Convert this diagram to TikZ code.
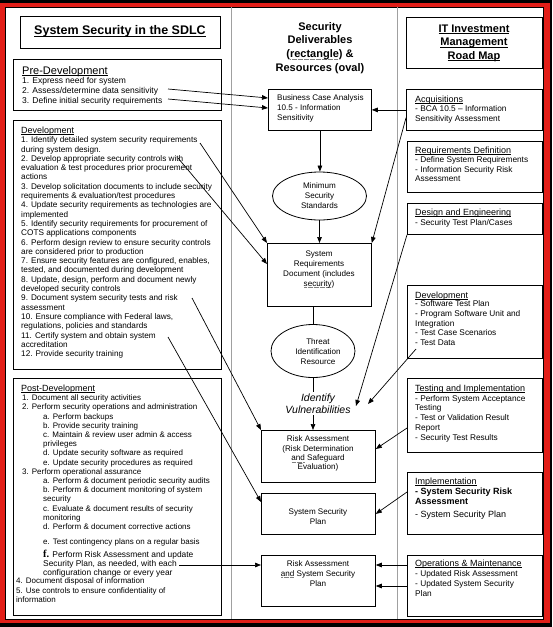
\documentclass[tikz,border=0pt]{standalone}
\usepackage{fontspec}
\setmainfont{Liberation Sans}
\newfontfamily\serifbf{Liberation Serif}
\usetikzlibrary{arrows.meta,shapes.geometric}
\definecolor{framered}{RGB}{226,30,24}
\definecolor{colsep}{RGB}{160,160,160}
\newcommand{\myfs}[2]{\fontsize{#1}{#2}\selectfont}
\newsavebox{\dulbox}
\newcommand{\uln}[1]{\sbox{\dulbox}{#1}\leavevmode\rlap{\rule[-1.3pt]{\wd\dulbox}{0.5pt}}\usebox{\dulbox}}
\newcommand{\ulnb}[1]{\sbox{\dulbox}{#1}\leavevmode\rlap{\rule[-1.9pt]{\wd\dulbox}{0.8pt}}\usebox{\dulbox}}
\newcommand{\dotul}[1]{\sbox{\dulbox}{#1}\leavevmode\rlap{\raisebox{-1.6pt}{\color{gray}\hbox to \wd\dulbox{\leaders\hbox to 1.2pt{\hss\vrule width 0.6pt height 0.4pt\hss}\hfill}}}\usebox{\dulbox}}
\tikzset{
  box/.style={draw, line width=0.8pt, inner sep=0, anchor=north west},
  oval/.style={draw, ellipse, line width=0.8pt, inner sep=0},
  arr/.style={line width=0.7pt, -{Triangle[length=6pt,width=4.6pt]}},
  ln/.style={line width=0.7pt},
  body/.style={inner sep=0, anchor=north west, align=left},
  cbody/.style={inner sep=0, anchor=north, align=center},
  hd/.style={inner sep=0, anchor=base west, font=\myfs{9}{10}},
}
\begin{document}
\begin{tikzpicture}[x=1pt,y=-1pt]
\useasboundingbox (0,0) rectangle (552,627);
% frame
\fill[black] (0,0) rectangle (552,627);
\fill[framered] (0,3) rectangle (550,623);
\filldraw[fill=white, draw=black, line width=0.6pt] (5,7) rectangle (543,619);
\draw[colsep, line width=0.8pt] (231,7) -- (231,619) (397,7) -- (397,619);

% ---------- left column ----------
\node[box, minimum width=200, minimum height=32] (title) at (20,16) {};
\node[inner sep=0, anchor=base, font=\myfs{12.5}{14}\bfseries] (titlet) at (120,34.5) {\ulnb{System Security in the SDLC}};

\node[box, minimum width=208, minimum height=51] (pre) at (13,59) {};
\node[hd, font=\myfs{11}{12}] (pret) at (22,74) {\uln{Pre-Development}};
\node[body, font=\myfs{8.5}{10}] (prel) at (22,76) {\strut 1. Express need for system\\2. Assess/determine data sensitivity\\3. Define initial security requirements};

\node[box, minimum width=208, minimum height=249] (dev) at (13,120) {};
\node[hd] (devt) at (21,133) {\uln{Development}};
\node[body, font=\myfs{8.2}{9.3}] (devl) at (21,136) {\strut 1. Identify detailed system security requirements\\
during system design.\\
2. Develop appropriate security controls with\\
evaluation \& test procedures prior procurement\\
actions\\
3. Develop solicitation documents to include security\\
requirements \& evaluation/test procedures\\
4. Update security requirements as technologies are\\
implemented\\
5. Identify security requirements for procurement of\\
COTS applications components\\
6. Perform design review to ensure security controls\\
are considered prior to production\\
7. Ensure security features are configured, enables,\\
tested, and documented during development\\
8. Update, design, perform and document newly\\
developed security controls\\
9. Document system security tests and risk\\
assessment\\
10. Ensure compliance with Federal laws,\\
regulations, policies and standards\\
11. Certify system and obtain system\\
accreditation\\
12. Provide security training};

\node[box, minimum width=208, minimum height=237] (post) at (13,378) {};
\node[hd] (postt) at (21,391) {\uln{Post-Development}};
\node[body, font=\myfs{8}{9.21}] (post1) at (22,394) {\strut 1. Document all security activities\\
2. Perform security operations and administration\\
\hspace*{21pt}a. Perform backups\\
\hspace*{21pt}b. Provide security training\\
\hspace*{21pt}c. Maintain \& review user admin \& access\\
\hspace*{21pt}privileges\\
\hspace*{21pt}d. Update security software as required\\
\hspace*{21pt}e. Update security procedures as required\\
3. Perform operational assurance\\
\hspace*{21pt}a. Perform \& document periodic security audits\\
\hspace*{21pt}b. Perform \& document monitoring of system\\
\hspace*{21pt}security\\
\hspace*{21pt}c. Evaluate \& document results of security\\
\hspace*{21pt}monitoring\\
\hspace*{21pt}d. Perform \& document corrective actions};
\node[inner sep=0, anchor=base west, font=\myfs{8}{9}] (poste) at (43,544) {e. Test contingency plans on a regular basis};
\node[body, font=\myfs{8.4}{9}] (post2) at (43,550) {\strut{\serifbf\bfseries\myfs{10.5}{9}f.} Perform Risk Assessment and update\\
Security Plan, as needed, with each\\
configuration change or every year};
\node[body, font=\myfs{8}{9.5}] (post3) at (16,577) {\strut 4. Document disposal of information\\
5. Use controls to ensure confidentiality of\\
information};

% ---------- middle column ----------
\node[cbody, font=\myfs{11}{13.6}\bfseries] (midt) at (320,20.5) {\strut Security\\Deliverables\\(\dotul{rectangle}) \&\\Resources (oval)};

\node[box, minimum width=103, minimum height=41] (bca) at (268,89) {};
\node[body, font=\myfs{8.1}{10}] (bcat) at (277,93) {\strut Business Case Analysis\\10.5 - Information\\Sensitivity};

\node[oval, minimum width=94, minimum height=48, align=center, font=\myfs{8.1}{10}] (mss) at (319.5,196) {Minimum\\Security\\Standards};

\node[box, minimum width=104, minimum height=63] (srd) at (267,243) {};
\node[cbody, font=\myfs{8.1}{10}] (srdt) at (319,249) {\strut System\\Requirements\\Document (includes\\\dotul{security})};

\node[oval, minimum width=84, minimum height=53] (tir) at (313,351) {};
\node[cbody, font=\myfs{8.1}{10}] (tirt) at (318,337) {\strut Threat\\Identification\\Resource};

\node[box, minimum width=114, minimum height=52] (ra) at (261,430) {};
\node[cbody, font=\myfs{8.1}{9.4}] (rat) at (318,435) {\strut Risk Assessment\\(Risk Determination\\\dotul{and} Safeguard\\Evaluation)};

\node[box, minimum width=114, minimum height=41] (ssp) at (261,493) {};
\node[cbody, font=\myfs{8.1}{10}] (sspt) at (318,507) {\strut System Security\\Plan};

\node[box, minimum width=114, minimum height=51] (rassp) at (261,555) {};
\node[cbody, font=\myfs{8.1}{10}] (rasspt) at (318,559) {\strut Risk Assessment\\\dotul{and} System Security\\Plan};

% ---------- right column ----------
\node[box, minimum width=136, minimum height=51] (itt) at (406,17) {};
\node[cbody, font=\myfs{11}{13.5}\bfseries] (ittt) at (474,22.5) {\strut\ulnb{IT Investment}\\\ulnb{Management}\\\ulnb{Road Map}};

\node[box, minimum width=136, minimum height=41] (acq) at (406,89) {};
\node[hd] (acqt) at (415,102) {\uln{Acquisitions}};
\node[body, font=\myfs{8.3}{10}] (acql) at (415,104) {\strut - BCA 10.5 \textendash{} Information\\Sensitivity Assessment};

\node[box, minimum width=135, minimum height=51] (reqd) at (407,141) {};
\node[hd] (reqdt) at (415,153) {\uln{Requirements Definition}};
\node[body, font=\myfs{8.3}{9.5}] (reqdl) at (415,156) {\strut - Define System Requirements\\- Information Security Risk\\Assessment};

\node[box, minimum width=135, minimum height=31] (design) at (407,203) {};
\node[hd] (designt) at (415,215) {\uln{Design and Engineering}};
\node[body, font=\myfs{8.3}{9.5}] (designl) at (415,219) {\strut - Security Test Plan/Cases};

\node[box, minimum width=135, minimum height=73] (devr) at (407,285) {};
\node[hd] (devrt) at (415,298) {\uln{Development}};
\node[body, font=\myfs{8.3}{9.6}] (devrl) at (415,300) {\strut - Software Test Plan\\- Program Software Unit and\\Integration\\- Test Case Scenarios\\- Test Data};

\node[box, minimum width=135, minimum height=74] (testimp) at (407,378) {};
\node[hd] (testimpt) at (415,391) {\uln{Testing and Implementation}};
\node[body, font=\myfs{8.3}{9.8}] (testimpl) at (415,394) {\strut - Perform System Acceptance\\Testing\\- Test or Validation Result\\Report\\- Security Test Results};

\node[box, minimum width=135, minimum height=62] (impl) at (407,472) {};
\node[hd] (implt) at (415,484) {\uln{Implementation}};
\node[body, font=\myfs{9}{10}\bfseries] (impll) at (415,487.5) {\strut - System Security Risk\\Assessment};
\node[hd] (impll2) at (415,517) {- System Security Plan};

\node[box, minimum width=135, minimum height=61] (om) at (407,555) {};
\node[hd] (omt) at (415,566) {\uln{Operations \& Maintenance}};
\node[body, font=\myfs{8.3}{10}] (oml) at (415,569) {\strut - Updated Risk Assessment\\- Updated System Security\\Plan};

% ---------- connectors ----------
\coordinate (pd2) at (168,89);
\coordinate (pd3) at (168,99);
\draw[arr] (pd2) -- ([shift={(0,9)}]bca.north west);
\draw[arr] (pd3) -- ([shift={(0,19)}]bca.north west);
\draw[arr] (acq.west) -- (acq.west -| bca.east);
\draw[arr] (bca.south) -- (bca.south |- mss.north);
\draw[arr] (mss.south) -- (mss.south |- srd.north);

\coordinate (d1) at (200,143);
\coordinate (d2) at (178,158);
\draw[arr] (d1) -- (srd.north west);
\draw[arr] (d2) -- ([shift={(0,21)}]srd.north west);
\draw[arr] ([shift={(0,-13)}]acq.south west) -- (srd.north east);

\draw[ln] (tir.north |- srd.south) -- (tir.north);
\draw[arr] (tir.south) -- (tir.south |- ra.north);
\node[cbody, fill=white, inner ysep=2pt, font=\myfs{10.5}{11.5}\itshape] (iv) at (318,391.5) {\strut Identify\\Vulnerabilities};

\coordinate (v1) at (356,406);
\coordinate (v2) at (368,404);
\coordinate (tdata) at (416,349);
\draw[arr] (design.south west) -- (v1);
\draw[arr] (tdata) -- (v2);

\coordinate (d9) at (192,298);
\coordinate (d11) at (168,337);
\draw[arr] (d9) -- (ra.north west);
\draw[arr] (d11) -- ([shift={(0,9)}]ssp.north west);

\draw[arr] ([shift={(0,50)}]testimp.north west) -- ([shift={(0,19)}]ra.north east);
\draw[arr] ([shift={(0,20)}]impl.north west) -- (ssp.east);

\coordinate (o1) at ([shift={(0,10)}]om.north west);
\coordinate (o2) at ([shift={(0,31)}]om.north west);
\draw[arr] (o1) -- (o1 -| rassp.east);
\draw[arr] (o2) -- (o2 -| rassp.east);

\coordinate (pf) at (179,565);
\draw[arr] (pf) -- (pf -| rassp.west);
\end{tikzpicture}
\end{document}
